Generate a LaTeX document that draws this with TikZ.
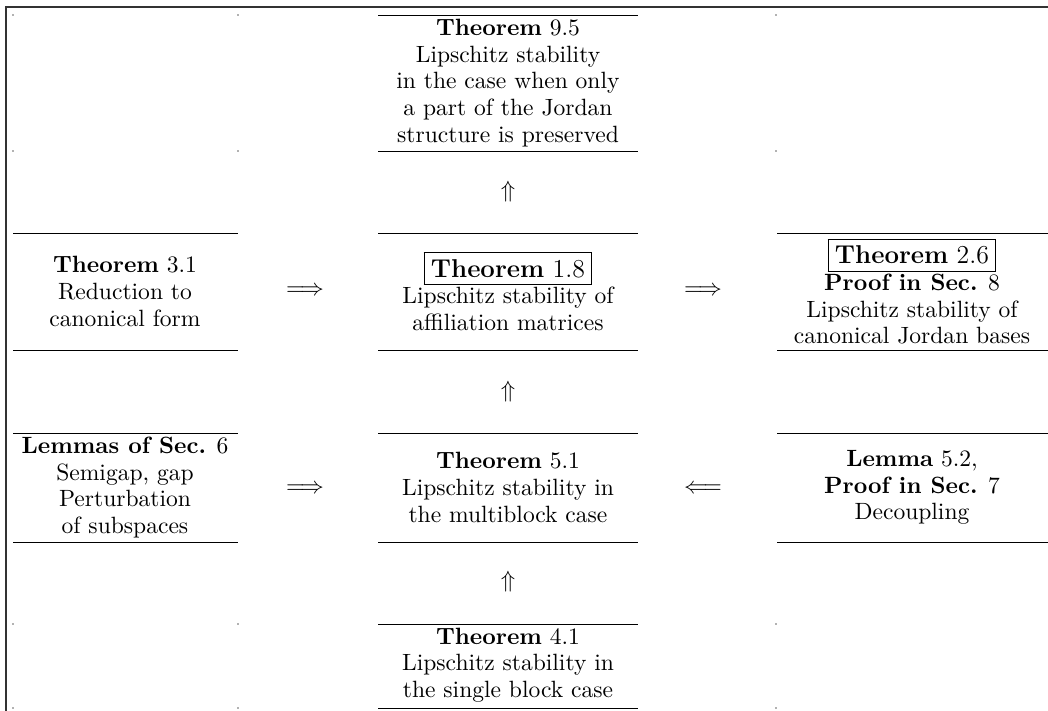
\documentclass[tikz,border=0pt]{standalone}
\begin{document}
\begin{tikzpicture}[x=0.4651pt,y=-0.4651pt,
  cell/.style={align=center, inner sep=0pt, font=\fontsize{10.95}{12.4}\selectfont},
  sym/.style={inner sep=0pt, font=\fontsize{10.95}{12.4}\selectfont},
  hrule/.style={line width=0.4pt, black},
  frame/.style={line width=0.9pt, black!80},
  dotmark/.style={fill=gray!60}]
\useasboundingbox (0,0) rectangle (1048,711);
% frame
\draw[frame] (6,711) -- (6,7) -- (1048,7);
% horizontal rules of the filled cells
\foreach \y in {233,350,433,542}{
  \draw[hrule] (13,\y) -- (238,\y);
  \draw[hrule] (777,\y) -- (1048,\y);
}
\foreach \y in {15,151,233,350,433,542,624,708}{
  \draw[hrule] (378,\y) -- (638,\y);
}
% tiny marks of the empty cells
\foreach \y in {15,151,624,708}{
  \fill[dotmark] (12,\y-1) rectangle (14,\y+1);
  \fill[dotmark] (237,\y-1) rectangle (239,\y+1);
  \fill[dotmark] (775,\y-1) rectangle (777,\y+1);
}
% cells
\node[cell] (t95) at (508,83) {\textbf{Theorem} 9.5\\Lipschitz stability\\in the case when only\\a part of the Jordan\\structure is preserved};
\node[cell] (t31) at (125,291.5) {\textbf{Theorem} 3.1\\Reduction to\\canonical form};
\node[cell] (t18) at (508,291.5) {\fbox{\fontsize{12}{14.5}\selectfont\textbf{Theorem} 1.8}\\Lipschitz stability of\\affiliation matrices};
\node[cell] (t26) at (912,291.5) {\fbox{\fontsize{12}{14.5}\selectfont\textbf{Theorem} 2.6}\\\textbf{Proof in Sec.} 8\\Lipschitz stability of\\canonical Jordan bases};
\node[cell] (l6) at (125,487.5) {\textbf{Lemmas of Sec.} 6\\Semigap, gap\\Perturbation\\of subspaces};
\node[cell] (t51) at (508,487.5) {\textbf{Theorem} 5.1\\Lipschitz stability in\\the multiblock case};
\node[cell] (l52) at (912,487.5) {\textbf{Lemma} 5.2,\\\textbf{Proof in Sec.} 7\\Decoupling};
\node[cell] (t41) at (508,665) {\textbf{Theorem} 4.1\\Lipschitz stability in\\the single block case};
% implication symbols
\node[sym] (a1) at (508,192) {$\Uparrow$};
\node[sym] (a2) at (508,392) {$\Uparrow$};
\node[sym] (a3) at (508,582) {$\Uparrow$};
\node[sym] (a4) at (305,291) {$\Longrightarrow$};
\node[sym] (a5) at (703,291) {$\Longrightarrow$};
\node[sym] (a6) at (305,489) {$\Longrightarrow$};
\node[sym] (a7) at (703,489) {$\Longleftarrow$};
\end{tikzpicture}
\end{document}
